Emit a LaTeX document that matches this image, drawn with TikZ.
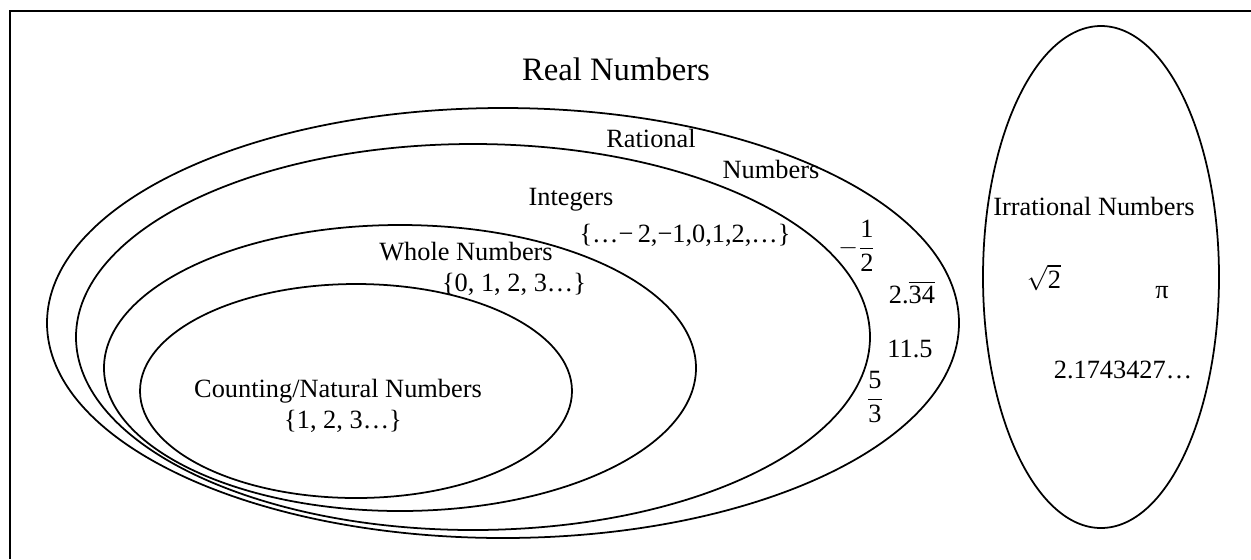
\documentclass[tikz,border=0pt]{standalone}
\usepackage{amsmath}
\usepackage{fontspec}
\setmainfont{Liberation Serif}
\tikzset{
  setline/.style={line width=1pt},
  lab/.style={anchor=base, inner sep=0pt, font=\fontsize{15}{18}\selectfont},
}
\begin{document}
\begin{tikzpicture}[x=0.02cm, y=-0.02cm]
  \useasboundingbox (0,0) rectangle (1251,559);
  \draw[line width=1.2pt] (1251,11) -- (10,11) -- (10,559);
  % rational, integers, whole, counting, irrational
  \foreach \cx/\cy/\rx/\ry in {503/323/456/215, 473/337/397/193, 400/368/296/143, 356/391/216/107, 1101/277/118/251}
    \draw[setline] (\cx,\cy) ellipse [x radius=\rx, y radius=\ry];
  \node[lab, font=\fontsize{18.6}{22}\selectfont] (real) at (616,80) {Real Numbers};
  \node[lab] (rat) at (651,147) {Rational};
  \node[lab] (ratb) at (771,178) {Numbers};
  \node[lab] (int) at (571,205) {Integers};
  \node[lab] (intset) at (685,242) {\{…−\,2,−1,0,1,2,…\}};
  \node[lab] (whole) at (466,260) {Whole Numbers};
  \node[lab] (wholeset) at (514,291) {\{0, 1, 2, 3…\}};
  \node[lab] (count) at (338,397) {Counting/Natural Numbers};
  \node[lab] (countset) at (343,428) {\{1, 2, 3…\}};
  \node[lab, anchor=center] (half) at (857,246) {$-\dfrac{\text{1}}{\text{2}}$};
  \node[lab] (rep) at (912,303) {2.$\overline{\text{34}}$};
  \node[lab] (dec) at (910,357) {11.5};
  \node[lab, anchor=center] (third) at (875,397) {$\dfrac{\text{5}}{\text{3}}$};
  \node[lab] (irr) at (1094,215) {Irrational Numbers};
  \node[lab] (root) at (1044,288) {$\sqrt{\text{2}}$};
  \node[lab] (pi) at (1162,298) {π};
  \node[lab] (long) at (1123,378) {2.1743427…};
\end{tikzpicture}
\end{document}
